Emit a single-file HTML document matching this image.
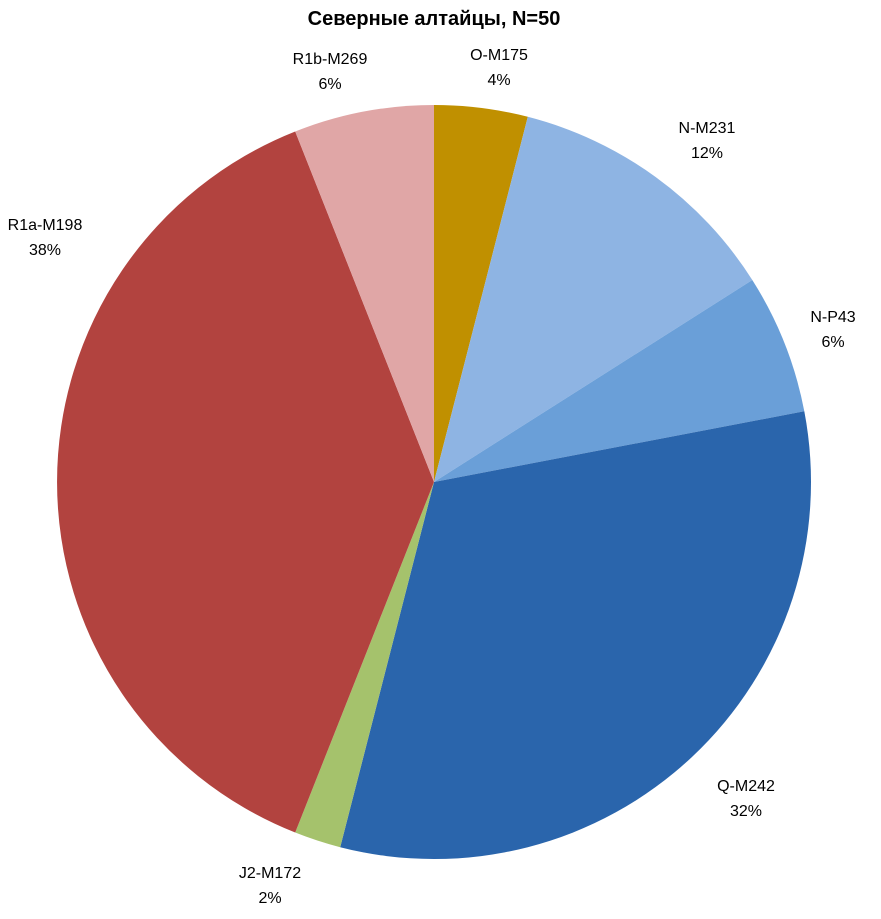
<!DOCTYPE html>
<html><head><meta charset="utf-8"><style>
body{margin:0;background:#fff}
text{font-family:"Liberation Sans",sans-serif;font-size:16px;fill:#000}
</style></head><body>
<svg width="881" height="914" xmlns="http://www.w3.org/2000/svg">
<rect width="881" height="914" fill="#fff"/>
<text x="434" y="25" text-anchor="middle" style="font-size:20px;font-weight:bold">Северные алтайцы, N=50</text>
<g>
<path d="M434,482 L434,105 A377,377 0 0 1 527.8,116.8 Z" fill="#C09000"/>
<path d="M434,482 L527.8,116.8 A377,377 0 0 1 752.3,280 Z" fill="#8EB4E3"/>
<path d="M434,482 L752.3,280 A377,377 0 0 1 804.3,411.3 Z" fill="#6A9FD8"/>
<path d="M434,482 L804.3,411.3 A377,377 0 0 1 340.2,847.2 Z" fill="#2A65AC"/>
<path d="M434,482 L340.2,847.2 A377,377 0 0 1 295.2,832.5 Z" fill="#A5C26C"/>
<path d="M434,482 L295.2,832.5 A377,377 0 0 1 295.2,131.5 Z" fill="#B2433F"/>
<path d="M434,482 L295.2,131.5 A377,377 0 0 1 434,105 Z" fill="#E0A6A6"/>
</g>
<g text-anchor="middle">
<text x="499" y="60">O-M175</text><text x="499" y="85">4%</text>
<text x="330" y="64">R1b-M269</text><text x="330" y="89">6%</text>
<text x="707" y="133">N-M231</text><text x="707" y="158">12%</text>
<text x="833" y="322">N-P43</text><text x="833" y="347">6%</text>
<text x="45" y="230">R1a-M198</text><text x="45" y="255">38%</text>
<text x="746" y="791">Q-M242</text><text x="746" y="816">32%</text>
<text x="270" y="878">J2-M172</text><text x="270" y="903">2%</text>
</g>
</svg>
</body></html>
